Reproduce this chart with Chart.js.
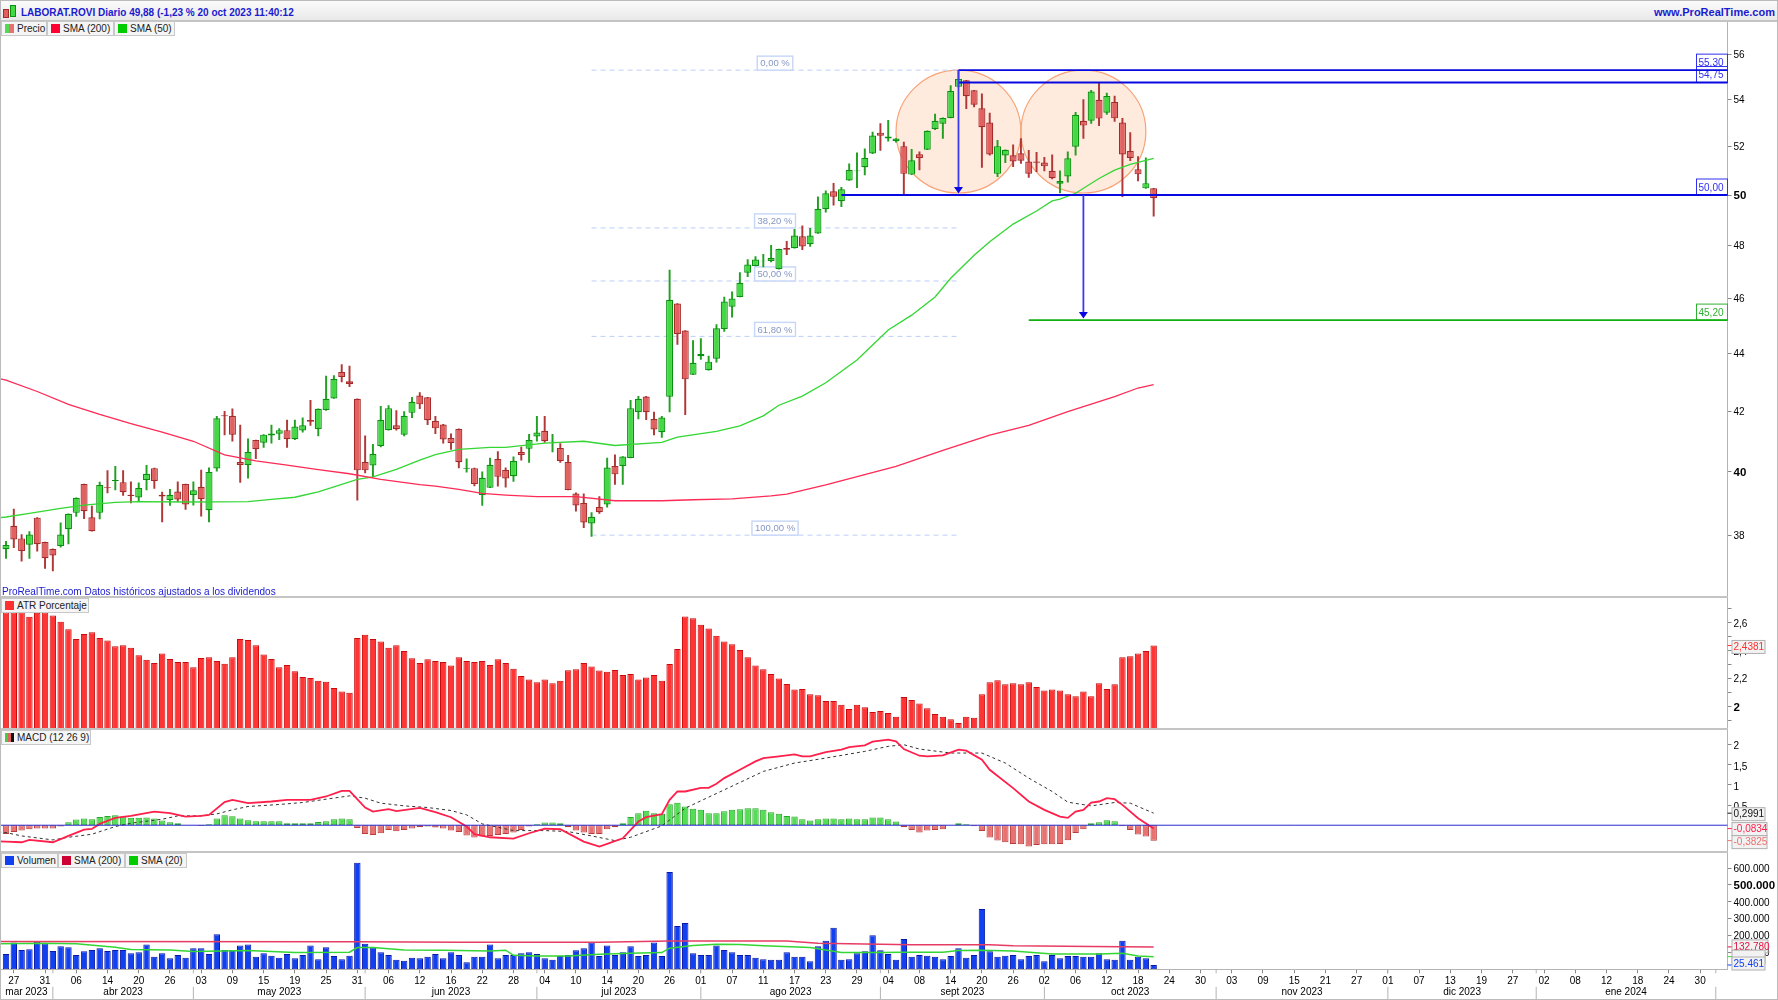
<!DOCTYPE html>
<html>
<head>
<meta charset="utf-8">
<title>LABORAT.ROVI</title>
<script src="https://cdn.jsdelivr.net/npm/chart.js@4"></script>
<style>
  html, body { margin: 0; padding: 0; background: #fff; }
  body { position: relative; width: 1778px; height: 1000px; overflow: hidden; font-family: "Liberation Sans", Arial, sans-serif; }
  canvas { position: absolute; left: -8px; }
  .frame { position: absolute; left: 0; top: 0; width: 1776px; height: 998px; border: 1px solid #bbb; pointer-events: none; z-index: 5; }
  .bar { position: absolute; left: 0; top: 1px; width: 1778px; height: 19px; background: linear-gradient(#fbfbfb, #e9e9e9); border-bottom: 2px solid #c4c4c4; z-index: 3; }
  .title { position: absolute; left: 21px; top: 1px; line-height: 22px; font-size: 10px; font-weight: bold; color: #1a1ad0; white-space: nowrap; }
  .site { position: absolute; right: 3px; top: 0; line-height: 22px; font-size: 11px; font-weight: bold; color: #1a1ad0; }
  .ico { position: absolute; border: 1px solid; box-sizing: border-box; }
  .sep { position: absolute; left: 0; width: 1728px; height: 2px; background: #c4c4c4; z-index: 3; }
  .legend { position: absolute; height: 15px; box-sizing: border-box; border: 1px solid #c8c8c8; background: #f5f5f5; font-size: 10px; line-height: 13px; color: #222; padding-left: 15px; white-space: nowrap; z-index: 4; }
  .legend i { position: absolute; left: 3px; top: 2px; width: 9px; height: 9px; }
  .note { position: absolute; left: 2px; top: 586px; font-size: 10px; line-height: 12px; color: #1a1ad0; z-index: 4; }
</style>
</head>
<body>
<div class="bar">
  <span class="ico" style="left:3px;top:8px;width:6px;height:9px;background:#e06060;border-color:#a52a2a"></span>
  <span class="ico" style="left:10px;top:4px;width:6px;height:12px;background:#44d844;border-color:#0a9010"></span>
  <span class="title">LABORAT.ROVI Diario 49,88 (-1,23 % 20 oct 2023 11:40:12</span>
  <span class="site">www.ProRealTime.com</span>
</div>
<div class="legend" style="left:1px;top:21px;width:46px"><i style="background:linear-gradient(90deg,#55d855 50%,#e87070 50%)"></i>Precio</div>
<div class="legend" style="left:47px;top:21px;width:67px"><i style="background:#ff0033"></i>SMA (200)</div>
<div class="legend" style="left:114px;top:21px;width:61px"><i style="background:#00cc00"></i>SMA (50)</div>
<div class="note">ProRealTime.com Datos históricos ajustados a los dividendos</div>
<div class="legend" style="left:1px;top:598px;width:88px"><i style="background:#ff3030"></i>ATR Porcentaje</div>
<div class="legend" style="left:1px;top:730px;width:90px"><i style="background:linear-gradient(90deg,#44cc44 33%,#e06060 33%,#e06060 66%,#111 66%)"></i>MACD (12 26 9)</div>
<div class="legend" style="left:1px;top:853px;width:57px"><i style="background:#1040f0"></i>Volumen</div>
<div class="legend" style="left:58px;top:853px;width:67px"><i style="background:#cc0033"></i>SMA (200)</div>
<div class="legend" style="left:125px;top:853px;width:62px"><i style="background:#00cc00"></i>SMA (20)</div>
<div class="sep" style="top:596px"></div>
<div class="sep" style="top:728px"></div>
<div class="sep" style="top:851px"></div>
<div class="frame"></div>

<canvas id="priceChart" width="1786" height="575" style="top:22px"></canvas>
<canvas id="atrChart" width="1786" height="132" style="top:597px"></canvas>
<canvas id="macdChart" width="1786" height="123" style="top:729px"></canvas>
<canvas id="volChart" width="1786" height="148" style="top:852px"></canvas>

<script>
const tickDays = ["27","31","06","14","20","26","03","09","15","19","25","31","06","12","16","22","28","04","10","14","20","26","01","07","11","17","23","29","04","08","14","20","26","02","06","12","18","24","30","03","09","15","21","27","01","07","13","19","27","02","08","12","18","24","30"];
const monthNames = ["mar 2023","abr 2023","may 2023","jun 2023","jul 2023","ago 2023","sept 2023","oct 2023","nov 2023","dic 2023","ene 2024"];
const monthStarts = [0,6,24,46,68,89,112,133,155,177,196,219];

const opens = [37.57,38.29,37.90,37.71,38.54,37.79,37.58,37.67,38.18,38.69,39.60,38.55,38.69,39.50,39.70,39.66,39.26,39.17,39.73,40.11,39.26,39.09,39.36,39.60,39.25,39.51,38.77,40.10,41.86,41.84,40.31,40.21,41.03,40.94,41.18,41.24,41.36,41.06,41.35,41.70,41.40,42.04,42.43,43.35,43.02,42.42,40.31,40.20,40.83,41.36,41.52,41.21,41.94,42.53,
  42.47,41.67,41.55,41.10,41.40,40.09,40.11,39.25,39.48,40.41,40.05,39.85,40.64,40.74,41.15,41.34,40.99,40.77,40.31,39.30,39.00,38.36,38.87,38.95,40.18,40.18,40.44,41.97,42.50,41.73,41.29,42.49,45.81,44.82,43.25,43.90,43.41,43.81,44.88,45.69,46.05,46.96,47.22,47.40,47.41,47.10,47.91,47.90,48.36,48.05,48.47,49.43,50.15,49.75,50.59,50.97,51.13,51.70,52.58,52.33,52.22,52.01,50.83,51.67,51.86,52.74,52.96,53.21,54.56,54.85,54.41,53.62,53.01,50.86,51.62,51.63,51.71,51.37,51.37,51.33,50.99,50.46,50.75,51.99,53.09,53.09,53.99,53.43,53.90,53.01,51.81,51.05,50.27,50.27];
const highs = [37.81,38.81,38.02,38.11,38.54,37.79,37.58,38.38,38.66,39.16,39.60,38.90,39.66,40.03,40.17,40.03,39.67,39.64,40.20,40.11,39.34,39.43,39.67,39.60,39.67,40.05,40.12,41.82,41.99,42.08,41.53,41.07,41.03,41.21,41.53,41.41,41.70,41.70,41.77,42.37,42.08,43.20,43.22,43.61,43.55,42.42,41.17,40.89,42.16,42.19,42.02,41.98,42.47,42.63,
  42.47,41.82,41.55,41.24,41.40,40.41,40.11,39.99,40.44,40.65,40.12,40.48,40.80,41.22,41.82,41.82,41.22,40.91,40.53,39.32,39.29,38.70,39.20,40.44,40.54,40.49,42.37,42.50,42.50,41.97,41.82,47.06,45.81,44.82,44.46,44.53,43.91,45.04,46.05,46.24,46.97,47.46,47.58,47.66,48.01,47.87,48.17,48.63,48.77,48.67,49.93,50.17,50.47,50.31,51.27,51.73,51.90,52.60,52.97,53.10,52.33,52.18,51.88,51.77,52.66,53.37,53.21,54.61,55.29,54.85,54.41,54.25,53.42,52.26,51.86,52.07,52.33,51.83,51.75,51.54,51.65,50.99,51.77,53.45,54.00,54.41,54.76,54.29,54.15,53.19,52.58,51.57,51.52,50.27];
const lows = [37.29,37.62,37.21,37.29,37.51,36.99,36.92,37.63,37.73,38.58,38.51,38.12,38.50,39.32,39.41,39.24,39.00,39.06,39.41,39.46,38.41,38.92,39.04,38.80,38.93,38.59,38.41,40.01,41.20,40.99,39.65,39.79,40.42,40.79,40.93,41.04,40.79,41.04,41.29,41.52,41.17,42.02,42.43,43.00,42.84,39.09,39.96,39.83,40.80,41.36,41.36,41.17,41.78,42.08,
  41.54,41.24,40.93,40.72,40.12,39.98,39.54,38.92,39.48,39.53,39.50,39.68,40.37,40.30,40.99,40.95,40.64,40.30,39.41,38.74,38.23,37.96,38.67,38.87,39.59,39.59,40.44,41.74,41.71,41.20,41.12,41.97,44.32,41.88,43.25,43.79,43.41,43.69,44.79,45.31,46.05,46.81,47.22,47.18,47.37,47.10,47.65,47.90,47.84,47.97,48.47,49.31,49.59,49.53,50.59,50.30,50.82,51.70,51.83,52.22,52.18,50.00,50.83,51.02,51.86,52.71,52.34,53.21,54.56,53.61,53.68,51.13,51.63,50.75,51.32,51.16,51.29,50.71,50.95,50.98,50.65,50.08,50.52,51.63,52.34,52.97,52.88,53.36,53.06,49.93,51.40,50.57,50.27,49.15];
const closes = [37.70,37.87,37.52,38.02,37.72,37.30,37.38,38.02,38.66,39.16,38.74,38.12,39.57,39.47,39.73,39.34,39.22,39.47,39.93,39.70,39.20,39.26,39.11,38.95,39.40,39.12,39.99,41.76,41.83,41.21,40.21,40.64,40.73,41.21,41.25,41.36,41.06,41.48,41.52,41.64,42.08,42.42,43.10,43.17,42.93,40.04,40.04,40.57,41.70,42.10,41.39,41.84,42.32,42.23,
  41.69,41.42,41.05,40.93,40.30,40.12,39.60,39.80,40.22,39.83,39.78,40.34,40.54,41.03,41.28,40.99,41.01,40.34,39.41,38.92,38.39,38.57,38.71,40.13,39.91,40.49,42.10,42.42,41.96,41.38,41.78,45.94,44.70,43.09,43.67,43.98,43.71,44.90,45.88,45.99,46.58,47.27,47.46,47.42,47.52,47.87,47.84,48.39,47.97,48.39,49.45,50.07,49.93,50.23,51.02,51.00,51.52,52.46,52.45,52.42,52.33,50.86,51.42,51.52,52.66,53.09,53.21,54.38,54.91,54.15,53.78,52.81,51.66,52.01,51.86,51.37,51.40,50.87,51.32,51.17,50.68,50.57,51.50,53.34,52.88,54.35,53.18,54.16,53.19,51.66,51.52,50.84,50.48,49.87];

const sma200Days = [-1,0,4,8,12,16,20,24,28,32,36,40,44,48,53,55,58,61,64,68,73,78,84,88,93,98,100,105,114,120,126,131,136,142,145,147];
const sma200Vals = [43.12,43.06,42.67,42.23,41.89,41.58,41.29,40.99,40.54,40.35,40.21,40.06,39.93,39.75,39.58,39.53,39.43,39.30,39.25,39.20,39.20,39.07,39.07,39.10,39.13,39.22,39.28,39.57,40.17,40.69,41.19,41.52,41.98,42.49,42.79,42.91];
const sma50Days = [-1,0,3,7,10,14,17,23,31,34,37,40,45,47,50,53,55,58,62,64,69,74,78,84,86,91,94,97,99,102,105,109,111,113,116,119,121,124,126,129,132,134,135,137,140,142,144,147];
const sma50Vals = [38.53,38.56,38.67,38.83,38.93,39.02,39.04,39.03,39.04,39.11,39.18,39.35,39.75,39.83,40.07,40.37,40.55,40.72,40.79,40.79,40.93,40.99,40.85,40.95,41.13,41.32,41.50,41.84,42.20,42.51,42.97,43.77,44.30,44.84,45.38,46.05,46.75,47.63,48.15,48.84,49.36,49.76,49.83,50.07,50.67,51.01,51.25,51.50];

const fibLevels = [55.30,48.69,46.65,44.61,38.00];
const fibNames = ["0,00 %","38,20 %","50,00 %","61,80 %","100,00 %"];
const priceTicks = [56,54,52,50,48,46,44,42,40,38];

const atrVals = [2.676,2.676,2.676,2.643,2.672,2.676,2.652,2.607,2.554,2.485,2.521,2.533,2.492,2.473,2.433,2.44,2.421,2.368,2.335,2.313,2.38,2.342,2.32,2.32,2.282,2.349,2.354,2.327,2.308,2.354,2.485,2.478,2.44,2.373,2.342,2.282,2.299,2.253,2.213,2.206,2.186,2.179,2.134,2.108,2.1,2.492,2.514,2.485,2.466,2.421,2.44,2.399,2.347,2.313,2.339,2.327,2.32,2.294,2.354,2.327,2.32,2.327,2.299,2.339,2.313,2.272,2.22,2.194,2.174,2.194,2.167,2.186,2.261,2.268,2.313,2.287,2.258,2.249,2.263,2.227,2.234,2.194,2.208,2.227,2.186,2.306,2.413,2.645,2.633,2.586,2.559,2.507,2.466,2.447,2.406,2.354,2.294,2.268,2.234,2.201,2.163,2.122,2.127,2.088,2.081,2.041,2.041,2.014,1.983,2.014,1.995,1.962,1.969,1.955,1.928,2.069,2.048,2.022,1.988,1.947,1.928,1.909,1.883,1.928,1.921,2.088,2.174,2.189,2.16,2.167,2.16,2.174,2.141,2.115,2.122,2.115,2.088,2.074,2.108,2.074,2.167,2.127,2.16,2.354,2.361,2.38,2.399,2.4381];
const atrTicks = [2.7,2.6,2.5,2.4,2.3,2.2,2.1,2,1.9];

const macdHist = [-.216,-.166,-.133,-.1,-.083,-.083,-.083,-.033,.075,.141,.166,.149,.207,.232,.249,.216,.183,.183,.191,.166,.116,.075,.05,0,0,-.017,.025,.166,.249,.224,.166,.125,.1,.1,.1,.1,.05,.05,.05,.05,.083,.1,.149,.166,.149,-.066,-.216,-.241,-.199,-.116,-.149,-.116,-.083,-.05,-.033,-.058,-.083,-.133,-.166,-.257,-.307,-.282,-.266,-.241,-.216,-.183,-.116,-.033,.025,.066,.066,.05,-.05,-.133,-.183,-.216,-.216,-.1,-.05,.05,.207,.299,.357,.299,.282,.523,.556,.465,.407,.382,.299,.299,.349,.382,.398,.423,.423,.382,.324,.282,.232,.216,.149,.116,.149,.166,.166,.149,.166,.149,.149,.191,.191,.149,.091,-.05,-.116,-.183,-.133,-.116,-.1,0,.05,.025,-.025,-.141,-.307,-.382,-.423,-.465,-.473,-.531,-.49,-.473,-.473,-.465,-.374,-.191,-.1,.05,.075,.125,.1,-.025,-.116,-.232,-.282,-.3825];
const macdDays = [-1,0,2,3,6,8,10,11,12,14,16,19,21,23,25,26,28,29,31,34,36,39,41,43,44,46,47,49,50,53,55,57,59,60,62,65,67,69,71,74,76,77,79,81,82,84,85,86,87,89,90,91,92,94,96,97,99,101,102,103,105,107,108,110,111,113,114,115,117,118,120,122,123,125,126,129,131,133,135,136,137,138,139,140,141,142,143,145,147];
const macdVals = [-.4,-.407,-.423,-.365,-.423,-.266,-.108,-.091,.033,.183,.232,.34,.299,.216,.232,.257,.573,.631,.548,.589,.631,.631,.714,.855,.855,.44,.34,.398,.349,.432,.324,.199,-.033,-.224,-.299,-.332,-.199,-.083,-.1,-.407,-.531,-.465,-.324,.091,.199,.274,.631,.838,.838,.93,.93,1.029,1.17,1.378,1.585,1.668,1.71,1.76,1.71,1.71,1.818,1.876,1.942,1.984,2.075,2.125,2.083,1.892,1.726,1.71,1.735,1.876,1.851,1.627,1.378,.921,.589,.382,.216,.183,.34,.382,.564,.589,.672,.647,.506,.174,-.0834];
const signalDays = [-1,0,2,6,8,11,14,16,20,22,25,27,29,31,35,38,41,44,46,48,51,54,57,59,61,65,69,72,75,78,80,84,87,90,94,97,101,105,110,113,115,117,121,125,128,131,134,136,139,142,144,147];
const signalVals = [-.17,-.183,-.266,-.365,-.299,-.224,-.033,.05,.149,.232,.232,.282,.382,.465,.515,.564,.647,.73,.672,.548,.481,.44,.365,.257,.033,-.133,-.133,-.158,-.266,-.382,-.299,-.017,.423,.697,1.062,1.336,1.544,1.668,1.834,1.959,2.0,1.892,1.793,1.793,1.544,1.17,.838,.573,.481,.564,.548,.2991];
const macdTicks = [2,1.5,1,.5];

const volVals = [91000,159000,115000,119000,165000,155000,109000,137000,131000,85000,107000,115000,125000,109000,115000,115000,95000,101000,147000,75000,95000,65000,85000,69000,125000,125000,91000,208000,115000,115000,141000,147000,75000,95000,81000,69000,91000,65000,85000,141000,60000,131000,79000,60000,81000,631000,151000,131000,101000,85000,56000,50000,69000,65000,75000,91000,65000,101000,85000,42000,75000,75000,147000,65000,85000,85000,95000,101000,91000,65000,56000,79000,85000,113000,125000,159000,79000,141000,85000,101000,137000,79000,85000,159000,79000,577000,256000,274000,95000,85000,85000,141000,115000,101000,85000,85000,69000,60000,56000,56000,101000,75000,75000,48000,137000,169000,246000,56000,60000,95000,107000,202000,113000,91000,56000,179000,75000,85000,81000,75000,60000,79000,125000,69000,85000,357000,107000,75000,81000,85000,60000,79000,85000,48000,85000,65000,79000,79000,75000,75000,95000,60000,56000,169000,56000,75000,65000,25461];
const volSma200Days = [-1,45,58,76,85,100,104,116,126,129,139,147];
const volSma200Vals = [165000,163000,161000,161000,168000,168000,155000,145000,145000,139000,135000,132780];
const volSma20Days = [-1,5,9,14,16,21,24,31,37,44,45,47,51,56,62,64,65,68,72,76,80,84,85,88,91,94,97,103,107,112,115,120,122,125,129,134,140,143,145,147];
const volSma20Vals = [151000,155000,151000,131000,117000,115000,105000,111000,99000,101000,129000,129000,115000,113000,109000,113000,83000,79000,79000,89000,95000,99000,125000,141000,149000,147000,139000,129000,99000,99000,101000,101000,111000,113000,109000,91000,91000,95000,79000,75000];
const volTicks = [600000,500000,400000,300000,200000,100000];

const FONT = '"Liberation Sans", Arial, sans-serif';
const UP_FILL = '#44d844', UP_EDGE = '#0a9010', DOWN_FILL = '#e26262', DOWN_EDGE = '#a52a2a';
// one extra slot in front so the averages run in from off the left edge
const categories = Array.from({ length: 222 }, (_, i) => (i % 4 === 2 ? tickDays[(i - 2) / 4] : ''));

function atDays(days, vals) {
  const out = new Array(149).fill(null);
  days.forEach((d, i) => { out[d + 1] = vals[i]; });
  return out;
}
function pad(arr) { return [null].concat(arr); }
function dayX(sx, day) { return sx.getPixelForValue(day + 1); }
function comma(v) { return String(v).replace('.', ','); }
function thousands(v) { return String(v).replace(/\B(?=(\d{3})+$)/g, '.'); }

function lineSet(data, color, width, order, dash) {
  return { type: 'line', data, borderColor: color, borderWidth: width, borderDash: dash || [], pointRadius: 0, tension: 0, spanGaps: true, order };
}

function yAxis(cfg) {
  return Object.assign({
    position: 'right',
    grid: { drawOnChartArea: false, tickLength: 4, color: '#888' },
    border: { color: '#b4b4b4' },
    afterFit: s => { s.width = 50.5; s.paddingTop = 0; s.paddingBottom = 0; },
    afterBuildTicks: s => { s.ticks = cfg.tickList.map(v => ({ value: v })); },
  }, cfg.scale, {
    ticks: {
      autoSkip: false, padding: 2, color: '#000', labelOffset: cfg.labelOffset || 1,
      callback: cfg.label,
      font: c => (c.tick && (cfg.bold || []).includes(c.tick.value)
        ? { family: FONT, size: 11.5, weight: 'bold' }
        : { family: FONT, size: 10 }),
    },
  });
}

function options(yScale, showX) {
  return {
    responsive: false,
    animation: false,
    events: [],
    layout: { padding: { left: 2.29 } },
    plugins: { legend: { display: false }, tooltip: { enabled: false } },
    scales: {
      x: {
        display: showX,
        offset: true,
        grid: { drawOnChartArea: false, offset: false, tickLength: 4, color: '#888' },
        border: { color: '#b4b4b4' },
        ticks: { autoSkip: false, maxRotation: 0, padding: 2, color: '#000', font: { family: FONT, size: 10 } },
        afterBuildTicks: s => { s.ticks = s.ticks.filter(t => categories[t.value] !== ''); },
        afterFit: s => { if (showX) { s.height = 30.7; } s.paddingLeft = 0; s.paddingRight = 0; },
      },
      y: yScale,
    },
  };
}

// value tag on the right axis, over the tick labels
function axisTag(chart, value, text, color, w, dy) {
  const ctx = chart.ctx, y = chart.scales.y.getPixelForValue(value), x = chart.chartArea.right;
  const my = y + dy;
  ctx.save();
  ctx.strokeStyle = color; ctx.lineWidth = 1;
  ctx.beginPath(); ctx.moveTo(x, y); ctx.lineTo(x + 5, y); ctx.stroke();
  ctx.fillStyle = '#f2f2f2'; ctx.strokeStyle = '#b0b0b0';
  ctx.fillRect(x + 4.5, my - 6.5, w, 13); ctx.strokeRect(x + 4.5, my - 6.5, w, 13);
  ctx.fillStyle = color; ctx.font = '10px ' + FONT; ctx.textBaseline = 'middle';
  ctx.fillText(text, x + 6, my + 0.5);
  ctx.restore();
}

const priceDrawings = {
  id: 'priceDrawings',
  beforeDatasetsDraw(chart) {
    const ctx = chart.ctx, sx = chart.scales.x, sy = chart.scales.y;
    // the two tops
    [[114, 130], [130, 146]].forEach(([a, b]) => {
      const xa = dayX(sx, a), xb = dayX(sx, b);
      const yt = sy.getPixelForValue(55.3), yb = sy.getPixelForValue(50.08);
      ctx.beginPath();
      ctx.ellipse((xa + xb) / 2, (yt + yb) / 2, (xb - xa) / 2, (yb - yt) / 2, 0, 0, Math.PI * 2);
      ctx.fillStyle = 'rgba(255,150,90,0.2)'; ctx.fill();
      ctx.strokeStyle = '#f7a377'; ctx.lineWidth = 1.2; ctx.stroke();
    });
    // fibonacci levels
    fibLevels.forEach((lvl, i) => {
      const y = sy.getPixelForValue(lvl), xa = dayX(sx, 75), xb = dayX(sx, 122), xm = dayX(sx, 98.5);
      ctx.save();
      ctx.setLineDash([5, 4]); ctx.strokeStyle = '#bccff8'; ctx.lineWidth = 1;
      ctx.beginPath(); ctx.moveTo(xa, y); ctx.lineTo(xb, y); ctx.stroke();
      ctx.restore();
      ctx.font = '9.5px ' + FONT;
      const w = ctx.measureText(fibNames[i]).width + 6;
      ctx.fillStyle = '#fff'; ctx.strokeStyle = '#c6d6f8'; ctx.lineWidth = 1.4;
      ctx.fillRect(xm - w / 2, y - 14, w, 14); ctx.strokeRect(xm - w / 2, y - 14, w, 14);
      ctx.fillStyle = '#8797c4'; ctx.textAlign = 'center'; ctx.textBaseline = 'middle';
      ctx.fillText(fibNames[i], xm, y - 6.5);
      ctx.textAlign = 'left';
    });
  },
  afterDatasetsDraw(chart) {
    const ctx = chart.ctx, sx = chart.scales.x, sy = chart.scales.y, right = chart.chartArea.right;
    const levels = [[122, 55.30, '#0808e0'], [122, 54.75, '#0808e0'], [107, 50.00, '#0808e0'], [131, 45.20, '#10b010']];
    // boxes with the level price, sitting on the line
    const boxes = [[55.30, '55,30', '#3030f0'], [54.75, '54,75', '#3030f0'], [50.00, '50,00', '#3030f0'], [45.20, '45,20', '#30b030']];
    boxes.forEach(([price, text, color]) => {
      const y = sy.getPixelForValue(price);
      ctx.fillStyle = '#fff'; ctx.strokeStyle = color; ctx.lineWidth = 1;
      ctx.fillRect(right - 31, y - 16, 31, 16); ctx.strokeRect(right - 31, y - 16, 31, 16);
      ctx.fillStyle = color; ctx.font = '10px ' + FONT; ctx.textBaseline = 'middle'; ctx.textAlign = 'left';
      ctx.fillText(text, right - 29, y - 7);
    });
    levels.forEach(([from, price, color]) => {
      const y = sy.getPixelForValue(price);
      ctx.strokeStyle = color; ctx.lineWidth = 1.8;
      ctx.beginPath(); ctx.moveTo(dayX(sx, from), y); ctx.lineTo(right, y); ctx.stroke();
    });
    [[122, 55.30, 50.00], [138, 50.00, 45.20]].forEach(([day, p1, p2]) => {
      const x = dayX(sx, day), y1 = sy.getPixelForValue(p1), y2 = sy.getPixelForValue(p2) - 1.5;
      ctx.strokeStyle = '#3a3af0'; ctx.lineWidth = 1.8;
      ctx.beginPath(); ctx.moveTo(x, y1); ctx.lineTo(x, y2 - 4); ctx.stroke();
      ctx.fillStyle = '#0808e0';
      ctx.beginPath(); ctx.moveTo(x - 4.5, y2 - 6.5); ctx.lineTo(x + 4.5, y2 - 6.5); ctx.lineTo(x, y2); ctx.closePath(); ctx.fill();
    });
  },
};

new Chart(document.getElementById('priceChart'), {
  type: 'bar',
  data: {
    labels: categories,
    datasets: [
      lineSet(atDays(sma200Days, sma200Vals), '#ff2a55', 1.3, 1),
      lineSet(atDays(sma50Days, sma50Vals), '#33d633', 1.3, 2),
      {
        data: pad(opens.map((o, i) => [o, closes[i]])),
        backgroundColor: pad(opens.map((o, i) => (closes[i] >= o ? UP_FILL : DOWN_FILL))),
        borderColor: pad(opens.map((o, i) => (closes[i] >= o ? UP_EDGE : DOWN_EDGE))),
        borderWidth: 1.2, borderSkipped: false, grouped: false, barPercentage: 0.9, categoryPercentage: 1, order: 3,
      },
      {
        data: pad(lows.map((l, i) => [l, highs[i]])),
        backgroundColor: pad(opens.map((o, i) => (closes[i] >= o ? '#22a022' : '#b03838'))),
        grouped: false, maxBarThickness: 1.3, barPercentage: 1, categoryPercentage: 1, order: 4,
      },
    ],
  },
  options: options(yAxis({
    tickList: priceTicks,
    label: v => String(v),
    bold: [50, 40],
    scale: { type: 'logarithmic', min: 36.15, max: 57.49 },
  }), false),
  plugins: [priceDrawings],
});

new Chart(document.getElementById('atrChart'), {
  type: 'bar',
  data: {
    labels: categories,
    datasets: [{
      data: pad(atrVals),
      backgroundColor: '#ff3434', borderColor: '#c80a0a', borderWidth: 1, borderSkipped: false,
      barPercentage: 0.82, categoryPercentage: 1,
    }],
  },
  options: options(yAxis({
    tickList: atrTicks,
    label: v => (Math.round(v * 10) % 2 === 0 ? comma(v) : ''),
    bold: [2],
    scale: { type: 'linear', min: 1.84, max: 2.785 },
  }), false),
  plugins: [{ id: 'atrTag', afterDraw(chart) { axisTag(chart, 2.4381, '2,4381', '#ff3030', 33, 1.5); } }],
});

new Chart(document.getElementById('macdChart'), {
  type: 'bar',
  data: {
    labels: categories,
    datasets: [
      lineSet(atDays(macdDays, macdVals), '#ff1f4b', 1.8, 1),
      lineSet(atDays(signalDays, signalVals), '#333', 1, 2, [3, 3]),
      {
        data: pad(macdHist),
        backgroundColor: pad(macdHist.map(v => (v >= 0 ? '#55dd55' : '#e87272'))),
        borderColor: pad(macdHist.map(v => (v >= 0 ? '#28a828' : '#b83c3c'))),
        borderWidth: 1, borderSkipped: false, barPercentage: 0.82, categoryPercentage: 1, order: 3,
      },
    ],
  },
  options: options(yAxis({
    tickList: macdTicks,
    label: v => comma(v),
    labelOffset: 2,
    scale: { type: 'linear', min: -0.665, max: 2.39 },
  }), false),
  plugins: [{
    id: 'macdExtras',
    afterDatasetsDraw(chart) {
      const ctx = chart.ctx, y = chart.scales.y.getPixelForValue(0);
      ctx.strokeStyle = '#2a2ad0'; ctx.lineWidth = 1;
      ctx.beginPath(); ctx.moveTo(chart.chartArea.left, y); ctx.lineTo(chart.chartArea.right, y); ctx.stroke();
    },
    afterDraw(chart) {
      axisTag(chart, 0.2991, '0,2991', '#111', 33, 1);
      axisTag(chart, -0.0834, '-0,0834', '#ff1f4b', 35, 0.5);
      axisTag(chart, -0.3825, '-0,3825', '#ee7070', 35, 1.5);
    },
  }],
});

new Chart(document.getElementById('volChart'), {
  type: 'bar',
  data: {
    labels: categories,
    datasets: [
      lineSet(atDays(volSma200Days, volSma200Vals), '#e63c64', 1.5, 1),
      lineSet(atDays(volSma20Days, volSma20Vals), '#33d633', 1.5, 2),
      {
        data: pad(volVals),
        backgroundColor: '#1040f0', borderColor: '#0818a8', borderWidth: 1, borderSkipped: false,
        barPercentage: 0.82, categoryPercentage: 1, order: 3,
      },
    ],
  },
  options: options(yAxis({
    tickList: volTicks,
    label: v => thousands(v),
    bold: [500000],
    scale: { type: 'linear', min: 0, max: 695000 },
  }), true),
  plugins: [{
    id: 'volExtras',
    afterDraw(chart) {
      const ctx = chart.ctx, sx = chart.scales.x, top = chart.chartArea.bottom;
      axisTag(chart, 132780, '132.780', '#e0103c', 36, -0.5);
      axisTag(chart, 75000, '', '#33d633', 33, 0);
      axisTag(chart, 25461, '25.461', '#1040f0', 33, -1.5);
      // months under the day numbers
      ctx.save();
      ctx.font = '10px ' + FONT; ctx.fillStyle = '#000'; ctx.textAlign = 'center'; ctx.textBaseline = 'middle';
      ctx.strokeStyle = '#b4b4b4'; ctx.lineWidth = 1;
      monthStarts.forEach((start, i) => {
        const x = dayX(sx, start);
        if (i > 0) {
          ctx.beginPath(); ctx.moveTo(x, top + 17.5); ctx.lineTo(x, top + 30); ctx.stroke();
          ctx.beginPath(); ctx.moveTo(x, top); ctx.lineTo(x, top + 4); ctx.stroke();
        }
        if (i < monthNames.length) {
          const next = dayX(sx, monthStarts[i + 1]);
          ctx.fillText(monthNames[i], ((i ? x : 8) + next) / 2, top + 22.5);
        }
      });
      ctx.restore();
    },
  }],
});
</script>
</body>
</html>
